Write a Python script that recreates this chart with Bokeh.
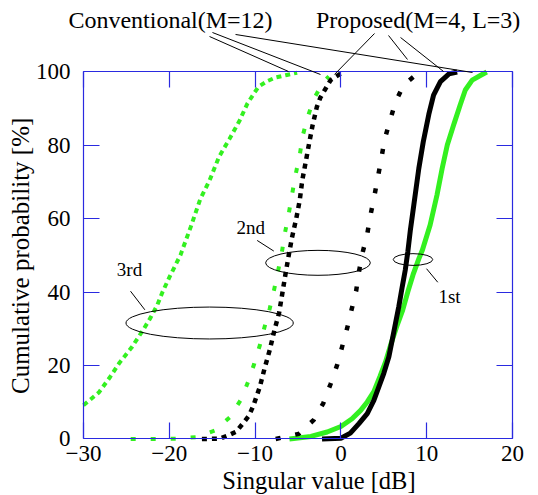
import math
from bokeh.plotting import figure
from bokeh.models import Range1d, LinearAxis, FixedTicker, Label, Arrow
from bokeh.embed import file_html
from bokeh.resources import INLINE

# ---------------- data ----------------
x_ticks = [-30, -20, -10, 0, 10, 20]
y_ticks = [0, 20, 40, 60, 80, 100]
x_min, x_max = -30, 20
y_min, y_max = 0, 100

# Conventional (M=12), green
conv1_x = [-6.0, -3.5, -1.6, 0.0, 1.3, 2.3, 3.07, 3.84, 4.54, 5.2, 5.78, 6.5, 7.2, 7.8, 8.4, 9.1,
           9.5, 10.4, 11.2, 11.8, 12.4, 13.2, 13.9, 14.5, 15.3, 16.3, 17.0]
conv1_y = [0.0, 0.7, 1.9, 3.4, 5.5, 7.8, 10.1, 12.9, 17.0, 21.0, 25.5, 30.6, 35.1, 40.1, 44.7, 49.2,
           51.5, 58.3, 66.5, 73.7, 80.1, 86.0, 91.0, 95.1, 97.8, 99.1, 100.0]

conv2_x = [-24.5, -21.5, -19.1, -16.9, -14.7, -12.95, -11.6, -10.8, -10.1, -9.45, -8.9, -8.3, -7.8,
           -7.35, -6.9, -6.5, -6.07, -5.68, -5.3, -4.8, -4.44, -3.9, -3.16, -2.0, -1.4]
conv2_y = [0.0, 0.0, 0.1, 0.5, 2.3, 5.9, 10.9, 15.7, 20.5, 25.5, 30.5, 35.5, 40.5,
           45.5, 50.6, 56.4, 61.5, 66.8, 71.8, 77.3, 82.7, 87.5, 92.7, 97.4, 98.8]

conv3_x = [-30.0, -28.2, -26.9, -25.8, -24.4, -23.0, -22.2, -21.4, -20.8, -19.9, -18.7, -17.5,
           -16.4, -15.3, -14.2, -13.0, -11.8, -10.9, -10.2, -9.6, -8.6, -7.6, -6.3, -5.1]
conv3_y = [9.2, 12.7, 16.9, 20.8, 24.9, 29.9, 33.0, 36.5, 40.0, 44.5, 50.1, 57.8,
           65.3, 70.5, 76.9, 81.7, 86.8, 91.4, 93.9, 96.0, 97.5, 98.5, 99.2, 99.8]

# Proposed (M=4, L=3), black
prop1_x = [-2.2, 0.0, 1.1, 2.1, 3.07, 3.84, 4.42, 5.0, 5.59, 5.98, 6.36, 6.75, 7.15, 7.5, 7.8,
           8.1, 8.5, 9.08, 9.6, 10.25, 10.8, 11.6, 12.6, 13.55]
prop1_y = [0.0, 0.2, 1.6, 4.2, 6.9, 10.5, 14.2, 17.9, 22.4, 27.0, 31.5, 36.1, 41.5, 46.0, 51.0,
           57.0, 63.8, 73.7, 81.0, 88.5, 93.7, 97.4, 99.5, 100.0]

prop2_x = [-7.6, -4.9, -3.16, -2.06, -1.2, -0.43, 0.15, 0.73, 1.24, 1.78, 2.1, 2.5, 3.06, 3.45,
           3.9, 4.3, 4.7, 5.08, 5.7, 6.36, 7.33, 9.1]
prop2_y = [0.0, 1.4, 5.2, 9.7, 15.0, 20.2, 25.2, 30.2, 35.2, 40.4, 45.5, 50.5, 55.7, 61.0,
           66.2, 71.2, 76.2, 81.5, 86.6, 91.8, 96.5, 99.9]

prop3_x = [-16.2, -14.1, -13.1, -12.2, -11.4, -10.7, -10.2, -9.45, -8.9, -8.3, -7.74, -7.2, -6.84,
           -6.46, -6.07, -5.7, -5.2, -4.8, -4.5, -4.1, -3.7, -3.3, -2.8, -2.4, -1.8, -1.2, 0.0]
prop3_y = [0.0, 0.1, 1.0, 2.0, 4.3, 6.4, 9.1, 14.2, 19.2, 24.2, 29.7, 34.4, 39.5,
           44.9, 50.2, 54.9, 60.1, 65.0, 70.5, 75.5, 80.6, 85.5, 90.5, 93.0, 95.4, 97.8, 99.6]

# ---------------- figure ----------------
FONT = "Liberation Serif"
BLUE = "#2a2ae0"
GREEN = "#33f020"

# the frame fills the whole canvas; the box is drawn by four fixed-location axes
p = figure(width=538, height=495,
           x_range=Range1d(-39.674, 23.03), y_range=Range1d(-15.40, 119.48),
           output_backend="svg", toolbar_location=None,
           x_axis_location=None, y_axis_location=None,
           min_border_left=0, min_border_right=0, min_border_top=0, min_border_bottom=0)
p.xgrid.visible = False
p.ygrid.visible = False
p.outline_line_color = None
p.background_fill_color = "white"
p.border_fill_color = "white"

left = LinearAxis(fixed_location=x_min, bounds=(y_min, y_max), ticker=FixedTicker(ticks=y_ticks))
right = LinearAxis(fixed_location=x_max, bounds=(y_min, y_max), ticker=FixedTicker(ticks=y_ticks),
                   major_label_overrides={t: "" for t in y_ticks})
below = LinearAxis(fixed_location=y_min, bounds=(x_min, x_max), ticker=FixedTicker(ticks=x_ticks))
above = LinearAxis(fixed_location=y_max, bounds=(x_min, x_max), ticker=FixedTicker(ticks=x_ticks),
                   major_label_overrides={t: "" for t in x_ticks})
p.add_layout(left, "left")
p.add_layout(right, "right")
p.add_layout(below, "below")
p.add_layout(above, "above")

for ax in (left, right, below, above):
    ax.axis_line_color = BLUE
    ax.axis_line_width = 1.2
    ax.major_tick_line_color = BLUE
    ax.major_tick_line_width = 1.2
    ax.major_tick_in = 16
    ax.major_tick_out = 0
    ax.minor_tick_line_color = None
    ax.major_label_text_font = FONT
    ax.major_label_text_font_size = "23px"
    ax.major_label_text_color = "black"

below.major_label_standoff = 7
left.major_label_standoff = 13

# ---------------- curves ----------------
p.line(conv3_x, conv3_y, line_color=GREEN, line_width=4, line_dash="5 4")
p.line(conv2_x, conv2_y, line_color=GREEN, line_width=4, line_dash="5 15")
p.line(conv1_x, conv1_y, line_color=GREEN, line_width=5)
p.line(prop3_x, prop3_y, line_color="black", line_width=4.5, line_dash="5 5")
p.line(prop2_x, prop2_y, line_color="black", line_width=4.5, line_dash="5 15")
p.line(prop1_x, prop1_y, line_color="black", line_width=5)

# ---------------- ellipses & labels ----------------
p.ellipse(x=[-15.3, -2.67, 8.4], y=[31.6, 48.0, 48.9], width=[19.5, 12.2, 4.6],
          height=[8.7, 6.8, 3.2], fill_color=None, line_color="black", line_width=1)

def txt(x, y, s, size, align="center", baseline="alphabetic", angle=0):
    p.add_layout(Label(x=x, y=y, text=s, text_font=FONT, text_font_size=size,
                       text_align=align, text_baseline=baseline, angle=angle,
                       text_color="black"))

def seg(x0, y0, x1, y1):
    p.add_layout(Arrow(end=None, x_start=x0, y_start=y0, x_end=x1, y_end=y1,
                       line_color="black", line_width=1))

txt(-24.64, 46.2, "3rd", "19px")
txt(-10.5, 57.5, "2nd", "19px")
txt(12.66, 38.7, "1st", "19px")
seg(-24.52, 40.27, -22.85, 35.2)
seg(-9.76, 54.1, -7.82, 51.2)
seg(9.98, 46.4, 11.29, 42.7)

txt(-19.86, 114.1, "Conventional(M=12)", "24px")
txt(9.0, 114.1, "Proposed(M=4, L=3)", "24px")
seg(-15.31, 109.67, -6.11, 100.14)
seg(-14.97, 110.76, -2.38, 99.32)
seg(-12.28, 110.22, 15.34, 99.86)
seg(3.92, 110.49, -0.75, 99.32)
seg(5.55, 109.95, 7.76, 103.41)
seg(6.95, 109.4, 11.96, 100.14)

txt(-2.56, -11.4, "Singular value [dB]", "24.5px")
txt(-37.35, 49.9, "Cumulative probability [%]", "25px", baseline="middle", angle=math.pi / 2)

open("out.html", "w").write(file_html(p, INLINE))
